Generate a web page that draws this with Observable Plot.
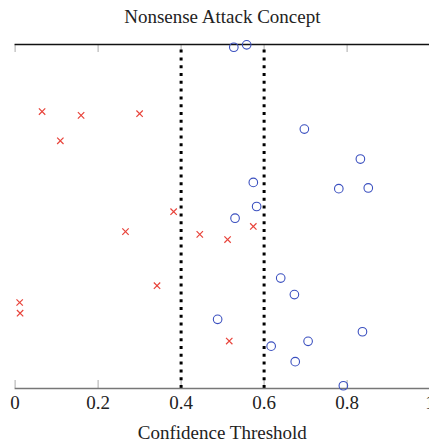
<!DOCTYPE html>
<html>
<head>
<meta charset="utf-8">
<script src="https://cdn.jsdelivr.net/npm/d3@7"></script>
<script src="https://cdn.jsdelivr.net/npm/@observablehq/plot@0.6"></script>
<style>
  html, body { margin: 0; padding: 0; background: #fff; overflow: hidden; }
  #chart svg, #chart svg text { font-family: "Liberation Serif", "DejaVu Serif", serif !important; }
</style>
</head>
<body>
<div id="chart"></div>
<script>
const title = "Nonsense Attack Concept";
const xLabel = "Confidence Threshold";
const xTicks = [0, 0.2, 0.4, 0.6, 0.8, 1];
const thresholds = [0.4, 0.6];

// red crosses: confidence, vertical jitter position
const redX = [0.065, 0.159, 0.300, 0.109, 0.382, 0.266, 0.445, 0.512, 0.574, 0.342, 0.011, 0.012, 0.516];
const redY = [0.805, 0.794, 0.799, 0.720, 0.514, 0.456, 0.448, 0.433, 0.471, 0.299, 0.250, 0.219, 0.138];

// blue circles
const blueX = [0.527, 0.558, 0.697, 0.832, 0.574, 0.780, 0.851, 0.582, 0.530, 0.640, 0.673, 0.488, 0.837, 0.706, 0.617, 0.675, 0.791];
const blueY = [0.992, 0.999, 0.754, 0.667, 0.599, 0.581, 0.583, 0.529, 0.495, 0.321, 0.273, 0.201, 0.165, 0.137, 0.123, 0.078, 0.008];

const red = redX.map((x, i) => ({x, y: redY[i]}));
const blue = blueX.map((x, i) => ({x, y: blueY[i]}));

const tickLen = 8 / 344;

const chart = Plot.plot({
  width: 429,
  height: 443,
  marginTop: 44,
  marginBottom: 55,
  marginLeft: 14.6,
  marginRight: 0,
  style: {fontFamily: "Liberation Serif, serif", fontSize: "17px", color: "#222", background: "#fff", overflow: "visible"},
  x: {domain: [0, 1], range: [14.6, 429.6]},
  y: {domain: [0, 1], axis: null},
  marks: [
    Plot.ruleX(xTicks, {x: d => d, y1: 0, y2: tickLen, stroke: "#aaa", strokeWidth: 1}),
    Plot.ruleX(xTicks, {x: d => d, y1: 1 - tickLen, y2: 1, stroke: "#aaa", strokeWidth: 1}),
    Plot.ruleX(thresholds, {x: d => d, y1: 0, y2: 0.995, stroke: "#000", strokeWidth: 3, strokeDasharray: "3,4.8"}),
    Plot.ruleY([0], {stroke: "#777", strokeWidth: 1.5}),
    Plot.ruleY([1], {stroke: "#111", strokeWidth: 1.5}),
    Plot.dot(red, {x: "x", y: "y", symbol: "times", r: 3, stroke: "#e8433a", strokeWidth: 1.2}),
    Plot.dot(blue, {x: "x", y: "y", symbol: "circle", r: 4.3, stroke: "#3a4fbf", strokeWidth: 1.1, fill: "none"}),
    Plot.axisX({ticks: xTicks, tickFormat: d => String(d), tickSize: 0, tickPadding: 7, fontSize: 19, label: null, fill: "#222"}),
    Plot.text([xLabel], {text: d => d, frameAnchor: "bottom", dy: 50, fontSize: 19, fill: "#222"}),
    Plot.text([title], {text: d => d, frameAnchor: "top", dy: -35, fontSize: 19, fill: "#222"})
  ]
});
document.getElementById("chart").appendChild(chart);
</script>
</body>
</html>
